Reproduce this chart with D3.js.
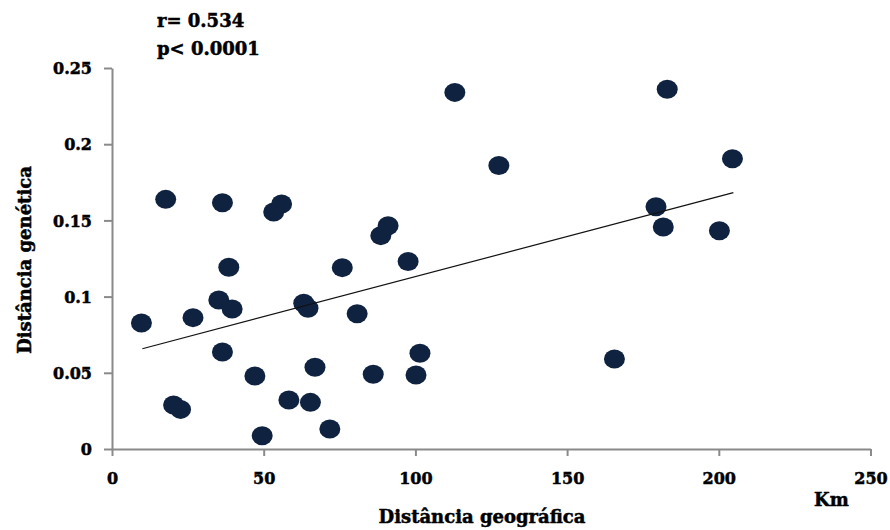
<!DOCTYPE html>
<html>
<head>
<meta charset="utf-8">
<script src="https://cdn.jsdelivr.net/npm/d3@7"></script>
<style>
  html, body { margin: 0; padding: 0; background: #fff; }
  text { font-family: "DejaVu Serif", serif; font-weight: bold; fill: #000; stroke: #000; stroke-width: 0.5px; }
</style>
</head>
<body>
<div id="chart"></div>
<script>
const width = 890
const height = 530

// geographic distance (km) vs genetic distance
const distKm = [9.7, 17.7, 20.3, 22.6, 26.7, 35.2, 36.4, 36.4, 38.5, 39.6,
  47.1, 49.5, 53.3, 55.9, 58.3, 63.2, 64.6, 65.4, 66.9, 71.8,
  75.9, 80.8, 86.1, 88.6, 91.0, 97.6, 100.2, 101.5, 113, 127.5,
  165.6, 179.3, 181.7, 183, 200.2, 204.5]
const distGen = [0.0827, 0.1638, 0.0289, 0.026, 0.0862, 0.0978, 0.1616, 0.0636, 0.1192, 0.0919,
  0.0479, 0.0087, 0.1555, 0.1608, 0.0322, 0.0956, 0.0923, 0.0306, 0.0536, 0.0131,
  0.119, 0.0888, 0.049, 0.140, 0.1465, 0.123, 0.0486, 0.0628, 0.234, 0.186,
  0.059, 0.159, 0.1457, 0.236, 0.1432, 0.1905]

// trend line ends
const trendX = [10, 204.8]
const trendY = [0.0658, 0.1682]

const xTicks = [0, 50, 100, 150, 200, 250]
const yTicks = [0, 0.05, 0.1, 0.15, 0.2, 0.25]
const statLines = ["r= 0.534", "p< 0.0001"]

const x = d3.scaleLinear().domain([0, 250]).range([112, 870.5])
const y = d3.scaleLinear().domain([0, 0.25]).range([449, 68])

const svg = d3.select("#chart")
  .append("svg")
    .attr("width", width)
    .attr("height", height)

// axes, grey lines with outside ticks
const xAxis = svg.append("g")
    .attr("transform", `translate(0,${y(0)})`)
    .call(d3.axisBottom(x).tickValues(xTicks).tickSize(7).tickSizeOuter(0).tickPadding(17)
      .tickFormat(d3.format("")))
const yAxis = svg.append("g")
    .attr("transform", `translate(${x(0)},0)`)
    .call(d3.axisLeft(y).tickValues(yTicks).tickSize(8).tickSizeOuter(0).tickPadding(12)
      .tickFormat(d => d === 0 ? "0" : String(d)))

for (const g of [xAxis, yAxis]) {
  g.select(".domain").attr("stroke", "#8a8a8a").attr("stroke-width", 2)
  g.selectAll(".tick line").attr("stroke", "#8a8a8a").attr("stroke-width", 2)
  g.selectAll(".tick text")
    .attr("fill", "#000")
    .style("font-family", "DejaVu Serif")
    .style("font-weight", "bold")
    .style("font-size", "16px")
}
yAxis.selectAll(".tick text").attr("dy", "0.36em")

// points
svg.append("g")
  .selectAll("ellipse")
  .data(distKm.map((d, i) => [d, distGen[i]]))
  .join("ellipse")
    .attr("cx", d => x(d[0]))
    .attr("cy", d => y(d[1]))
    .attr("rx", 10.5)
    .attr("ry", 9.5)
    .attr("fill", "#0f2341")

// linear trend
svg.append("line")
    .attr("x1", x(trendX[0])).attr("y1", y(trendY[0]))
    .attr("x2", x(trendX[1])).attr("y2", y(trendY[1]))
    .attr("stroke", "#111")
    .attr("stroke-width", 1.2)

// stats text
svg.append("g")
  .selectAll("text")
  .data(statLines)
  .join("text")
    .attr("x", 157)
    .attr("y", (d, i) => 27 + i * 28)
    .style("font-size", "18px")
    .text(d => d)

// axis titles
svg.append("text")
    .attr("x", 482)
    .attr("y", 523)
    .attr("text-anchor", "middle")
    .style("font-size", "18px")
    .text("Distância geográfica")

svg.append("text")
    .attr("x", 814)
    .attr("y", 506)
    .style("font-size", "18px")
    .text("Km")

svg.append("text")
    .attr("transform", "translate(31,260) rotate(-90)")
    .attr("text-anchor", "middle")
    .style("font-size", "18px")
    .text("Distância genética")
</script>
</body>
</html>
